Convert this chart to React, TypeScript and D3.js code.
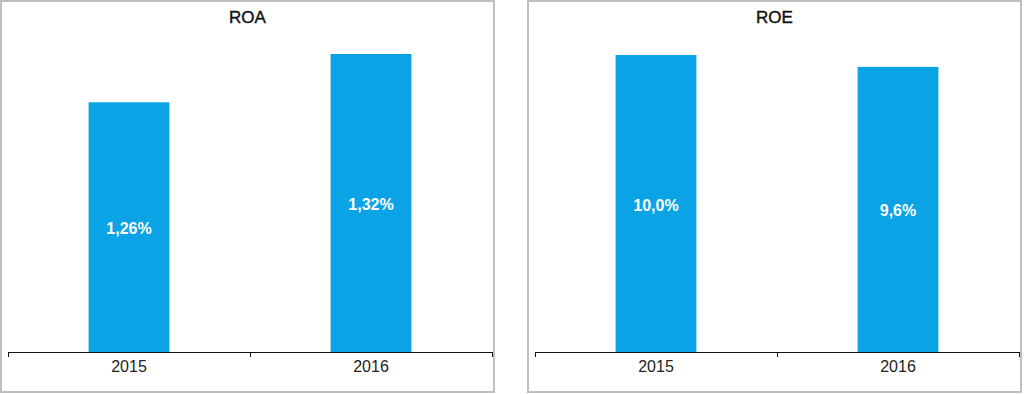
import React, { useEffect, useRef } from 'react';
import * as d3 from 'd3';

const years = ['2015', '2016'];
const roaValues = [1.26, 1.32];
const roeValues = [10.0, 9.6];
const roaLabels = ['1,26%', '1,32%'];
const roeLabels = ['10,0%', '9,6%'];

interface Panel {
  title: string;
  values: number[];
  labels: string[];
  domain: [number, number];
  x0: number;
}

const panels: Panel[] = [
  { title: 'ROA', values: roaValues, labels: roaLabels, domain: [0.95, 1.35], x0: 0 },
  { title: 'ROE', values: roeValues, labels: roeLabels, domain: [0, 10], x0: 527 },
];

const App: React.FC = () => {
  const svgRef = useRef<SVGSVGElement>(null);

  useEffect(() => {
    if (!svgRef.current) return;
    const svg = d3.select(svgRef.current);
    svg.selectAll('*').remove();

    const panelW = 495;
    const panelH = 392;
    const axisY = 352;

    panels.forEach(p => {
      const g = svg.append('g').attr('transform', `translate(${p.x0},0)`);

      g.append('rect')
        .attr('x', 1)
        .attr('y', 1)
        .attr('width', panelW - 2)
        .attr('height', panelH - 1)
        .attr('fill', '#fff')
        .attr('stroke', '#bfbfbf')
        .attr('stroke-width', 2);

      const x = d3.scaleBand()
        .domain(years)
        .range([8, 492])
        .paddingInner(0.666)
        .paddingOuter(0.333);

      // ROA top reaches the 1.32 level at y~54, ROE 10 at y~55
      const top = p.title === 'ROA' ? 352 - (0.4 / 0.37) * 298 : 55;
      const y = d3.scaleLinear().domain(p.domain).range([axisY, top]);

      g.append('text')
        .attr('x', panelW / 2)
        .attr('y', 23)
        .attr('text-anchor', 'middle')
        .attr('font-family', 'Liberation Sans, Arial, sans-serif')
        .attr('font-size', '17px')
        .attr('stroke', '#111')
        .attr('stroke-width', 0.4)
        .attr('fill', '#111')
        .text(p.title);

      p.values.forEach((v, i) => {
        const bx = x(years[i]) as number;
        g.append('rect')
          .attr('x', bx)
          .attr('y', y(v))
          .attr('width', x.bandwidth())
          .attr('height', axisY - y(v))
          .attr('fill', '#0aa3e5');

        g.append('text')
          .attr('x', bx + x.bandwidth() / 2)
          .attr('y', (y(v) + axisY) / 2 + 7)
          .attr('text-anchor', 'middle')
          .attr('font-family', 'Liberation Sans, Arial, sans-serif')
          .attr('font-weight', 'bold')
          .attr('font-size', '16px')
          .attr('fill', '#fff')
          .text(p.labels[i]);
      });

      // Axis line with category separators
      g.append('line')
        .attr('x1', 8)
        .attr('x2', 492)
        .attr('y1', axisY + 0.5)
        .attr('y2', axisY + 0.5)
        .attr('stroke', '#111')
        .attr('stroke-width', 1);

      [8, 250, 492].forEach(tx => {
        g.append('line')
          .attr('x1', tx + 0.5)
          .attr('x2', tx + 0.5)
          .attr('y1', axisY)
          .attr('y2', axisY + 5)
          .attr('stroke', '#111');
      });

      years.forEach(yr => {
        g.append('text')
          .attr('x', (x(yr) as number) + x.bandwidth() / 2)
          .attr('y', 372)
          .attr('text-anchor', 'middle')
          .attr('font-family', 'Liberation Sans, Arial, sans-serif')
          .attr('font-size', '16px')
          .attr('fill', '#222')
          .text(yr);
      });
    });
  }, []);

  return (
    <svg
      ref={svgRef}
      width={1024}
      height={394}
      style={{ position: 'fixed', left: 0, top: 0, background: '#fff' }}
    />
  );
};

export default App;
